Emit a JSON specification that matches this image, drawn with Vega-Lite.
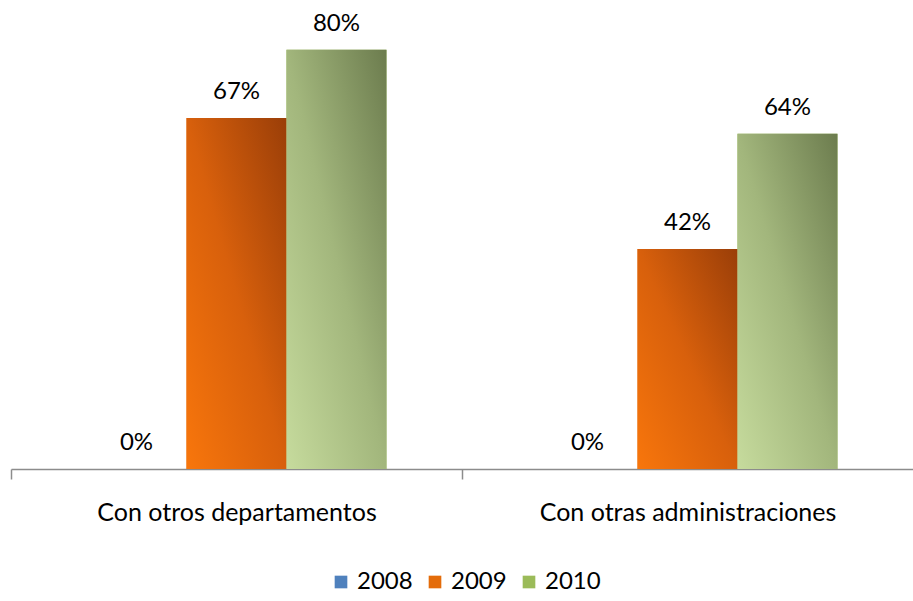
{
  "$schema": "https://vega.github.io/schema/vega-lite/v6.json",
  "width": 902,
  "height": 469,
  "autosize": {"type": "none"},
  "padding": {"left": 11, "top": 0, "right": 0, "bottom": 132},
  "background": "white",
  "config": {"view": {"stroke": null}},
  "data": {
    "values": [
      {"cat": "Con otros departamentos", "year": "2008", "value": 0},
      {"cat": "Con otros departamentos", "year": "2009", "value": 0.67},
      {"cat": "Con otros departamentos", "year": "2010", "value": 0.8},
      {"cat": "Con otras administraciones", "year": "2008", "value": 0},
      {"cat": "Con otras administraciones", "year": "2009", "value": 0.42},
      {"cat": "Con otras administraciones", "year": "2010", "value": 0.64}
    ]
  },
  "encoding": {
    "x": {
      "field": "cat",
      "type": "nominal",
      "sort": null,
      "scale": {"paddingInner": 0.335, "paddingOuter": 0.1675},
      "axis": {
        "title": null,
        "labelAngle": 0,
        "labelLimit": 0,
        "domainColor": "#8c8c8c",
        "domainWidth": 1.5,
        "tickColor": "#8c8c8c",
        "tickWidth": 1.5,
        "tickSize": 10,
        "tickOffset": -225.5,
        "labelOffset": 225.5,
        "labelFont": "Lato",
        "labelFontSize": 25,
        "labelColor": "#000000",
        "labelBaseline": "alphabetic",
        "labelPadding": 41
      }
    },
    "xOffset": {
      "field": "year",
      "type": "nominal",
      "sort": ["2008", "2009", "2010"],
      "scale": {"paddingInner": 0, "paddingOuter": 0}
    },
    "y": {
      "field": "value",
      "type": "quantitative",
      "scale": {"domain": [0, 0.895], "nice": false},
      "axis": null
    }
  },
  "layer": [
    {
      "mark": {"type": "bar"},
      "encoding": {
        "color": {
          "field": "year",
          "type": "nominal",
          "scale": {"domain": ["2008", "2009", "2010"], "range": ["#4F81BD", "#E46C0A", "#9BBB59"]},
          "legend": {
            "orient": "none",
            "legendX": 318,
            "legendY": 570,
            "direction": "horizontal",
            "title": null,
            "symbolType": "square",
            "symbolSize": 160,
            "symbolStrokeWidth": 0,
            "labelFont": "Lato",
            "labelFontSize": 24,
            "labelColor": "#000000",
            "labelOffset": 4,
            "columnPadding": 10
          }
        }
      }
    },
    {
      "transform": [{"filter": "datum.year === '2009'"}],
      "mark": {
        "type": "bar",
        "fill": {
          "gradient": "linear",
          "x1": 0, "y1": 1, "x2": 1, "y2": 0,
          "stops": [
            {"offset": 0, "color": "#F8760C"},
            {"offset": 0.5, "color": "#D8600C"},
            {"offset": 1, "color": "#9A3E08"}
          ]
        }
      }
    },
    {
      "transform": [{"filter": "datum.year === '2010'"}],
      "mark": {
        "type": "bar",
        "fill": {
          "gradient": "linear",
          "x1": 0, "y1": 1, "x2": 1, "y2": 0,
          "stops": [
            {"offset": 0, "color": "#C6DB9D"},
            {"offset": 0.5, "color": "#A2B67C"},
            {"offset": 1, "color": "#6C7C4E"}
          ]
        }
      }
    },
    {
      "mark": {
        "type": "text",
        "baseline": "alphabetic",
        "dy": -19,
        "font": "Lato",
        "fontSize": 24,
        "color": "#000000"
      },
      "encoding": {
        "text": {"field": "value", "type": "quantitative", "format": ".0%"}
      }
    }
  ]
}
